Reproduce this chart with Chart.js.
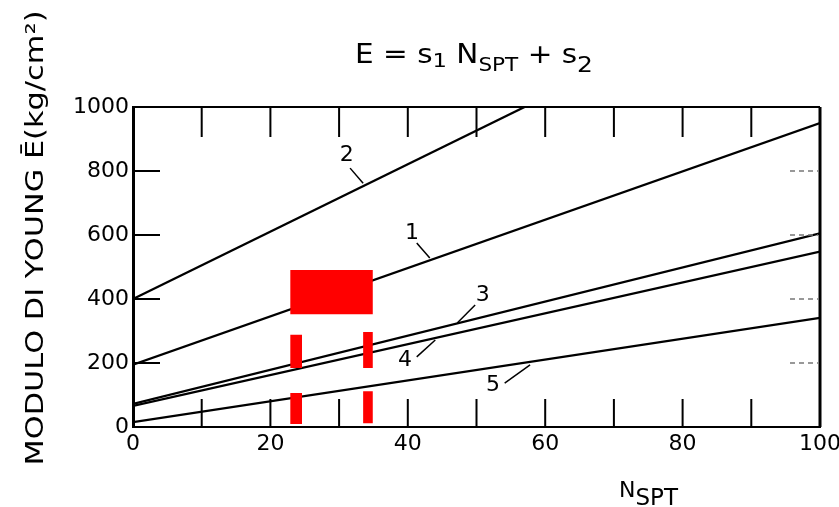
<!DOCTYPE html>
<html>
<head>
<meta charset="utf-8">
<script src="https://cdn.jsdelivr.net/npm/chart.js@4.4.1/dist/chart.umd.min.js"></script>
<style>
  html, body { margin: 0; padding: 0; background: #fff; }
  #wrap { width: 839px; height: 507px; }
</style>
</head>
<body>
<div id="wrap"><canvas id="youngChart"></canvas></div>
<script>
// curves: N_SPT at both ends and E at both ends
const curveNames = ['1', '2', '3', '4', '5'];
const curveN = [[0, 100], [0, 57], [0, 100], [0, 100], [0, 100]];
const curveE = [[195, 950], [400, 1000], [72, 605], [66, 548], [15, 341]];

// curve number position [N, E] and its leader [N0, E0, N1, E1]
const labelPos = [[40.6, 606], [31.1, 850], [50.9, 412], [39.6, 209], [52.4, 131]];
const leaders = [[41.3, 575, 43.2, 528], [31.6, 809, 33.5, 762], [49.8, 381, 47.2, 325], [41.3, 219, 44.0, 272], [54.1, 137, 57.8, 194]];

// red boxes [N0, N1, E0, E1]
const redBoxes = [[22.9, 34.9, 352, 491], [22.9, 24.6, 184, 288], [33.5, 34.9, 184, 297], [22.9, 24.6, 9, 106], [33.5, 34.9, 12, 112]];

const xTicks = [0, 20, 40, 60, 80, 100];
const yTicks = [0, 200, 400, 600, 800, 1000];
const xInnerTicks = [10, 20, 30, 40, 50, 60, 70, 80, 90];
const yInnerTicks = [200, 400, 600, 800];

const FONT = 'DejaVu Sans';

const datasets = [];
redBoxes.forEach(function (b) {
    datasets.push({
        data: [{x: b[0], y: b[2]}, {x: b[1], y: b[2]}, {x: b[1], y: b[3]}, {x: b[0], y: b[3]}, {x: b[0], y: b[2]}],
        borderWidth: 0,
        borderColor: 'rgba(0,0,0,0)',
        backgroundColor: '#ff0000',
        fill: 'shape',
        pointRadius: 0,
        tension: 0
    });
});
curveNames.forEach(function (name, i) {
    datasets.push({
        label: name,
        data: curveN[i].map(function (n, k) { return {x: n, y: curveE[i][k]}; }),
        borderColor: '#000',
        borderWidth: 2.3,
        pointRadius: 0,
        fill: false,
        tension: 0
    });
});

// pieces: [text, size, dy], squeezed or stretched to width w
function drawText(ctx, pieces, x, y, w) {
    let tw = 0;
    pieces.forEach(function (p) { ctx.font = p[1] + 'px ' + FONT; tw += ctx.measureText(p[0]).width; });
    ctx.save();
    ctx.translate(x - w / 2, y);
    ctx.scale(w / tw, 1);
    let cx = 0;
    pieces.forEach(function (p) {
        ctx.font = p[1] + 'px ' + FONT;
        ctx.fillText(p[0], cx, p[2]);
        cx += ctx.measureText(p[0]).width;
    });
    ctx.restore();
}

const overlay = {
    id: 'overlay',
    afterDraw: function (chart) {
        const ctx = chart.ctx;
        const xs = chart.scales.x, ys = chart.scales.y;
        const a = chart.chartArea;
        ctx.save();
        ctx.strokeStyle = '#000';
        ctx.fillStyle = '#000';

        // top and right frame
        ctx.lineWidth = 2;
        ctx.beginPath();
        ctx.moveTo(a.left, a.top); ctx.lineTo(a.right, a.top);
        ctx.stroke();
        ctx.lineWidth = 3;
        ctx.beginPath();
        ctx.moveTo(a.right, a.top); ctx.lineTo(a.right, a.bottom);
        ctx.stroke();

        // inward ticks
        ctx.lineWidth = 2;
        xInnerTicks.forEach(function (v) {
            const px = xs.getPixelForValue(v);
            ctx.beginPath();
            ctx.moveTo(px, a.top); ctx.lineTo(px, a.top + 30);
            ctx.moveTo(px, a.bottom); ctx.lineTo(px, a.bottom - 28);
            ctx.stroke();
        });
        yInnerTicks.forEach(function (v) {
            const py = ys.getPixelForValue(v);
            ctx.beginPath();
            ctx.moveTo(a.left, py); ctx.lineTo(a.left + 27, py);
            ctx.stroke();
        });
        ctx.strokeStyle = '#777';
        ctx.lineWidth = 1.5;
        ctx.setLineDash([5, 4]);
        yInnerTicks.forEach(function (v) {
            const py = ys.getPixelForValue(v);
            ctx.beginPath();
            ctx.moveTo(a.right - 30, py); ctx.lineTo(a.right - 2, py);
            ctx.stroke();
        });
        ctx.setLineDash([]);

        // curve numbers and leaders
        ctx.strokeStyle = '#000';
        ctx.lineWidth = 1.5;
        ctx.font = '22px ' + FONT;
        ctx.textAlign = 'center';
        ctx.textBaseline = 'middle';
        curveNames.forEach(function (name, i) {
            ctx.fillText(name, xs.getPixelForValue(labelPos[i][0]), ys.getPixelForValue(labelPos[i][1]));
            const l = leaders[i];
            ctx.beginPath();
            ctx.moveTo(xs.getPixelForValue(l[0]), ys.getPixelForValue(l[1]));
            ctx.lineTo(xs.getPixelForValue(l[2]), ys.getPixelForValue(l[3]));
            ctx.stroke();
        });

        // title
        ctx.textAlign = 'left';
        ctx.textBaseline = 'alphabetic';
        drawText(ctx, [['E = s', 26, 0], ['1', 20, 4], [' N', 26, 0], ['SPT', 19, 8], [' + s', 26, 0], ['2', 22, 9]], 474, 63, 238);

        // x axis title
        ctx.font = '22px ' + FONT;
        ctx.fillText('N', 619, 497);
        const nw = ctx.measureText('N').width;
        ctx.font = '23px ' + FONT;
        ctx.fillText('SPT', 619 + nw, 505);

        // y axis title
        const yTitle = 'MODULO DI YOUNG Ē(kg/cm²)';
        ctx.font = '25px ' + FONT;
        const tw = ctx.measureText(yTitle).width;
        ctx.translate(43, 238);
        ctx.rotate(-Math.PI / 2);
        ctx.scale(455 / tw, 1);
        ctx.textAlign = 'center';
        ctx.fillText(yTitle, 0, 0);
        ctx.restore();
    }
};

document.addEventListener('DOMContentLoaded', function () {
    const ctx = document.getElementById('youngChart').getContext('2d');
    new Chart(ctx, {
        type: 'line',
        data: { datasets: datasets },
        options: {
            responsive: true,
            maintainAspectRatio: false,
            animation: false,
            layout: { padding: { top: 107, right: 19, left: 0, bottom: 0 } },
            plugins: {
                legend: { display: false },
                tooltip: { enabled: false },
                title: { display: false }
            },
            scales: {
                x: {
                    type: 'linear',
                    min: 0,
                    max: 100,
                    afterBuildTicks: function (s) { s.ticks = xTicks.map(function (v) { return {value: v}; }); },
                    afterFit: function (s) { s.height = 80; s.paddingLeft = 0; s.paddingRight = 0; },
                    grid: { drawOnChartArea: false, drawTicks: false },
                    border: { display: true, color: '#000', width: 2 },
                    ticks: { color: '#000', padding: 4, maxRotation: 0, font: { family: FONT, size: 22 },
                             callback: function (v) { return String(v); } }
                },
                y: {
                    min: 0,
                    max: 1000,
                    afterBuildTicks: function (s) { s.ticks = yTicks.map(function (v) { return {value: v}; }); },
                    afterFit: function (s) { s.width = 133; s.paddingTop = 0; s.paddingBottom = 0; },
                    grid: { drawOnChartArea: false, drawTicks: false },
                    border: { display: true, color: '#000', width: 3 },
                    ticks: { color: '#000', padding: 4, font: { family: FONT, size: 22 },
                             callback: function (v) { return String(v); } }
                }
            }
        },
        plugins: [overlay]
    });
});
</script>
</body>
</html>
